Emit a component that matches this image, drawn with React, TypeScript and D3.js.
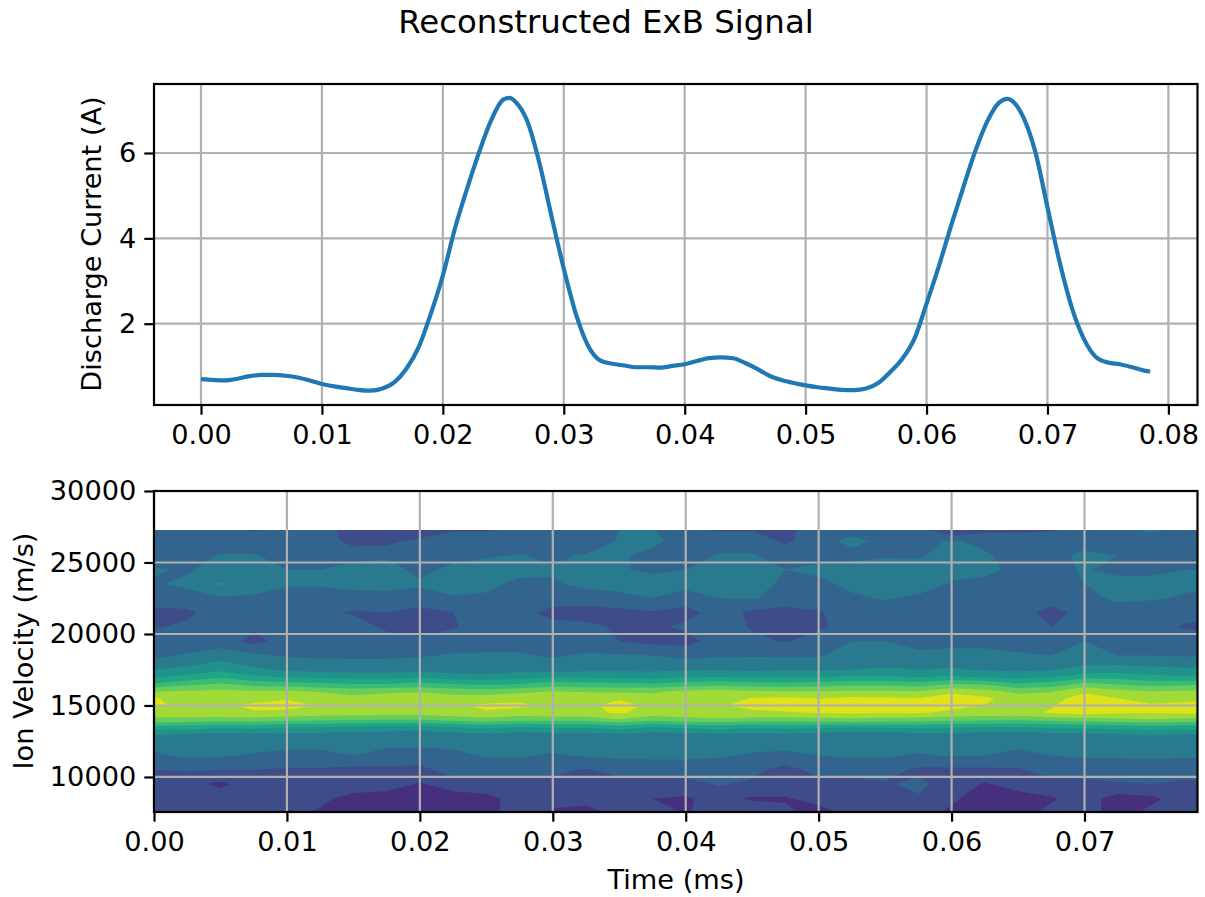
import React, { useRef, useEffect } from "react";
import * as d3 from "d3";

const WIDTH = 1205;
const HEIGHT = 897;

// discharge current trace
const traceTime = [0, 0.002, 0.003, 0.004, 0.005, 0.006, 0.007, 0.008, 0.009, 0.01, 0.011, 0.012, 0.013, 0.014, 0.015, 0.016, 0.017, 0.018, 0.019, 0.02, 0.021, 0.022, 0.023, 0.024, 0.025, 0.0255, 0.026, 0.027, 0.028, 0.029, 0.03, 0.031, 0.032, 0.033, 0.034, 0.035, 0.036, 0.037, 0.038, 0.039, 0.04, 0.041, 0.042, 0.043, 0.044, 0.045, 0.046, 0.047, 0.048, 0.049, 0.05, 0.051, 0.052, 0.053, 0.054, 0.055, 0.056, 0.057, 0.058, 0.059, 0.06, 0.061, 0.062, 0.063, 0.064, 0.065, 0.066, 0.0667, 0.067, 0.068, 0.069, 0.07, 0.071, 0.072, 0.073, 0.074, 0.075, 0.076, 0.077, 0.078, 0.0785];
const traceCurrent = [0.7, 0.67, 0.71, 0.77, 0.8, 0.8, 0.78, 0.74, 0.67, 0.585, 0.53, 0.49, 0.45, 0.43, 0.48, 0.63, 0.95, 1.45, 2.23, 3.13, 4.23, 5.16, 6.02, 6.77, 7.25, 7.29, 7.2, 6.73, 5.75, 4.5, 3.29, 2.23, 1.49, 1.14, 1.06, 1.02, 0.98, 0.98, 0.97, 1.01, 1.05, 1.125, 1.195, 1.21, 1.19, 1.08, 0.94, 0.78, 0.68, 0.61, 0.555, 0.51, 0.48, 0.45, 0.445, 0.48, 0.61, 0.87, 1.18, 1.65, 2.47, 3.33, 4.27, 5.16, 6.02, 6.73, 7.18, 7.27, 7.24, 6.84, 6.02, 4.73, 3.45, 2.39, 1.65, 1.22, 1.09, 1.05, 0.98, 0.9, 0.88];

// ion velocity map: time columns, velocity rows (top to bottom), band level per cell
const mapTime = [0, 0.0025, 0.005, 0.0075, 0.01, 0.0125, 0.015, 0.0175, 0.02, 0.0225, 0.025, 0.0275, 0.03, 0.0325, 0.035, 0.0375, 0.04, 0.0425, 0.045, 0.0475, 0.05, 0.0525, 0.055, 0.0575, 0.06, 0.0625, 0.065, 0.0675, 0.07, 0.0725, 0.075, 0.0775, 0.0785];
const mapVelocity = [27270, 26500, 25500, 24500, 23500, 22500, 21500, 20500, 19500, 18500, 17500, 17000, 16500, 16000, 15500, 15000, 14500, 14000, 13500, 13000, 12500, 11500, 10500, 9500, 8500, 7550];
const mapLevels = [
  [2.4, 2.5, 2.5, 1.9, 2.3, 2.4, 1.6, 1.6, 0.9, 1.9, 1.9, 2.3, 2.3, 2.5, 3.0, 3.1, 2.2, 1.9, 1.9, 1.8, 2.4, 2.6, 2.5, 2.5, 0.9, 1.7, 1.8, 1.9, 2.6, 2.9, 3.1, 2.8, 2.7],
  [2.3, 2.5, 2.6, 2.6, 2.6, 2.6, 1.6, 1.6, 2.4, 2.5, 2.6, 2.6, 2.6, 2.2, 3.1, 3.2, 2.6, 2.7, 2.7, 1.8, 2.6, 3.3, 2.7, 2.7, 3.1, 2.8, 2.6, 2.6, 2.6, 2.7, 2.7, 2.6, 2.6],
  [2.5, 2.7, 3.05, 3.05, 2.7, 2.9, 2.7, 2.9, 2.7, 2.7, 2.9, 3.05, 2.8, 3.1, 3.1, 2.8, 2.7, 3.05, 3.05, 2.7, 2.6, 2.7, 2.9, 2.9, 3.3, 3.1, 2.7, 2.7, 3.2, 3.0, 2.7, 2.6, 2.6],
  [3.1, 2.9, 3.4, 3.5, 3.0, 3.0, 3.3, 3.3, 2.8, 3.2, 3.4, 3.4, 3.1, 3.2, 3.1, 2.8, 3.0, 3.4, 3.4, 3.0, 3.3, 3.4, 3.4, 3.3, 3.4, 3.3, 2.7, 2.7, 3.1, 2.7, 2.7, 3.0, 3.0],
  [2.9, 3.2, 4.1, 3.6, 3.1, 3.1, 3.3, 3.3, 3.1, 3.4, 3.3, 2.7, 2.9, 3.2, 3.4, 3.5, 3.3, 3.4, 3.4, 2.8, 2.7, 3.3, 3.4, 3.5, 2.9, 2.7, 2.6, 2.6, 3.0, 3.4, 3.4, 3.2, 3.1],
  [2.5, 2.6, 2.9, 2.8, 2.6, 2.6, 2.6, 2.7, 2.7, 2.9, 2.8, 2.6, 2.6, 2.6, 2.7, 3.0, 2.6, 3.0, 3.1, 2.6, 2.6, 2.8, 3.1, 2.8, 2.6, 2.5, 2.5, 2.5, 2.7, 3.2, 3.1, 2.9, 2.9],
  [1.7, 1.8, 2.5, 2.5, 2.2, 2.2, 1.9, 2.0, 1.6, 2.0, 2.5, 2.4, 1.6, 1.5, 1.7, 1.9, 1.6, 2.5, 1.8, 1.6, 1.9, 2.5, 2.5, 2.5, 2.5, 2.5, 2.5, 1.6, 2.4, 2.5, 2.5, 2.4, 2.4],
  [1.9, 2.2, 2.5, 2.1, 2.2, 2.5, 2.5, 1.8, 1.6, 1.9, 2.5, 2.4, 2.4, 2.3, 1.8, 1.8, 2.2, 2.5, 1.9, 1.7, 1.8, 2.5, 2.5, 2.5, 2.5, 2.5, 2.4, 2.0, 2.5, 2.5, 2.5, 1.9, 1.8],
  [2.5, 2.5, 2.5, 1.7, 2.4, 2.5, 2.0, 2.4, 2.2, 2.5, 2.6, 2.6, 2.6, 2.6, 2.0, 1.7, 1.6, 2.5, 2.3, 1.9, 2.6, 3.0, 3.0, 2.7, 2.7, 2.7, 2.0, 2.6, 3.0, 2.6, 2.6, 2.6, 2.6],
  [2.8, 3.1, 3.5, 3.2, 2.9, 2.8, 2.8, 2.8, 2.9, 3.1, 3.1, 3.1, 2.9, 3.1, 3.1, 3.0, 2.7, 2.9, 2.9, 2.9, 2.9, 3.5, 3.5, 3.2, 3.3, 3.3, 3.3, 3.0, 3.1, 3.0, 3.0, 2.9, 2.9],
  [4.0, 4.3, 4.8, 4.2, 3.8, 3.7, 3.6, 3.6, 3.8, 3.6, 3.5, 3.7, 3.6, 3.8, 3.8, 3.8, 3.9, 3.9, 3.8, 3.9, 3.9, 4.0, 4.1, 4.0, 4.1, 3.9, 3.8, 3.9, 4.4, 4.5, 4.3, 4.2, 4.2],
  [4.9, 5.3, 5.8, 5.2, 4.9, 4.8, 4.6, 4.6, 4.8, 4.4, 4.4, 4.6, 4.9, 4.8, 4.7, 4.6, 4.9, 5.0, 4.9, 4.9, 5.0, 5.1, 5.1, 5.0, 5.1, 4.9, 4.7, 4.9, 5.6, 5.6, 5.3, 5.1, 5.2],
  [6.1, 6.7, 7.1, 6.6, 6.4, 6.2, 6.0, 6.0, 6.3, 6.0, 5.8, 6.0, 6.4, 6.3, 6.2, 6.1, 6.4, 6.6, 6.4, 6.3, 6.5, 6.7, 6.7, 6.5, 7.0, 6.9, 6.1, 6.4, 7.3, 6.9, 6.6, 6.7, 6.8],
  [7.9, 8.1, 8.2, 8.1, 8.1, 7.9, 7.6, 7.8, 7.9, 7.6, 7.4, 7.7, 8.0, 7.9, 7.8, 7.8, 8.2, 8.3, 8.1, 8.0, 8.0, 8.1, 8.1, 8.0, 8.7, 8.3, 7.7, 7.9, 8.8, 8.3, 8.0, 8.1, 8.2],
  [9.1, 8.5, 8.5, 8.6, 8.9, 8.8, 8.3, 8.5, 8.5, 8.4, 8.5, 8.7, 8.6, 8.5, 8.9, 8.5, 8.7, 8.6, 9.05, 9.2, 8.95, 9.2, 9.1, 9.0, 9.6, 9.2, 8.5, 8.6, 9.5, 9.0, 8.7, 8.8, 8.8],
  [9.2, 8.7, 8.8, 9.2, 9.3, 8.95, 8.7, 8.7, 9.05, 8.8, 9.2, 9.2, 8.8, 8.8, 9.3, 8.8, 8.9, 8.9, 9.3, 9.4, 9.5, 9.5, 9.4, 9.5, 9.3, 9.0, 8.8, 8.9, 9.6, 9.3, 9.1, 9.2, 9.4],
  [8.6, 8.7, 8.8, 8.9, 8.8, 8.6, 8.6, 8.5, 8.5, 8.7, 8.9, 8.6, 8.7, 8.7, 9.15, 8.6, 8.7, 8.7, 8.8, 8.9, 9.1, 9.2, 9.1, 9.1, 8.8, 8.7, 8.7, 9.1, 9.4, 9.1, 9.1, 9.2, 9.2],
  [7.7, 7.6, 7.5, 7.6, 7.3, 7.2, 7.1, 7.0, 7.0, 7.3, 7.6, 7.3, 7.4, 7.4, 7.9, 7.3, 7.6, 7.8, 7.6, 7.5, 7.6, 7.7, 7.6, 7.5, 7.3, 7.2, 7.1, 7.4, 7.5, 7.7, 7.9, 7.7, 7.7],
  [5.6, 5.6, 5.3, 5.4, 5.1, 5.0, 4.8, 4.7, 4.6, 5.0, 5.3, 5.0, 5.2, 5.2, 5.5, 5.0, 5.3, 5.5, 5.2, 5.4, 5.3, 5.1, 5.2, 5.3, 5.1, 5.0, 5.0, 5.2, 5.3, 5.4, 5.6, 5.5, 5.5],
  [4.1, 4.0, 3.8, 3.9, 3.8, 3.8, 3.6, 3.6, 3.5, 3.7, 3.9, 3.7, 3.7, 3.7, 3.9, 3.7, 3.8, 3.9, 3.8, 3.9, 3.8, 3.5, 3.6, 3.8, 3.8, 3.7, 3.6, 3.8, 3.9, 4.0, 4.1, 4.0, 4.0],
  [3.5, 3.5, 3.4, 3.5, 3.4, 3.4, 3.4, 3.3, 3.3, 3.4, 3.5, 3.4, 3.4, 3.4, 3.5, 3.4, 3.4, 3.5, 3.4, 3.4, 3.4, 3.3, 3.4, 3.4, 3.5, 3.4, 3.4, 3.5, 3.6, 3.6, 3.6, 3.5, 3.5],
  [2.8, 3.2, 3.1, 2.9, 2.7, 2.7, 3.0, 2.7, 2.6, 2.7, 3.1, 3.1, 2.9, 3.1, 3.2, 3.2, 3.2, 3.1, 2.9, 2.8, 3.0, 3.1, 3.1, 2.9, 3.1, 3.0, 2.7, 3.0, 3.1, 3.1, 3.2, 3.1, 3.1],
  [2.0, 2.1, 2.0, 2.0, 1.9, 1.9, 1.7, 1.8, 1.7, 2.5, 2.3, 2.5, 2.3, 1.9, 2.4, 2.5, 2.5, 2.5, 2.3, 1.6, 2.4, 2.5, 2.4, 1.8, 1.8, 1.8, 1.9, 2.4, 2.5, 2.5, 2.5, 2.5, 2.5],
  [1.6, 1.3, 0.8, 1.5, 1.6, 1.6, 1.5, 1.5, 0.9, 1.5, 1.6, 1.6, 1.6, 1.6, 1.6, 1.6, 1.6, 2.1, 1.8, 1.7, 1.6, 1.6, 1.9, 2.2, 1.6, 0.9, 1.5, 1.7, 1.7, 1.9, 2.0, 1.8, 1.8],
  [1.5, 1.5, 1.5, 1.4, 1.4, 1.2, 0.7, 0.5, 0.4, 0.5, 0.7, 1.4, 1.3, 1.4, 1.1, 1.0, 0.9, 1.3, 0.9, 0.9, 1.4, 1.5, 1.5, 1.9, 1.2, 0.4, 0.5, 0.9, 1.4, 0.6, 0.8, 1.4, 1.4],
  [0.9, 1.4, 1.5, 1.5, 1.3, 0.9, 0.4, 0.3, 0.3, 0.4, 0.8, 1.3, 0.9, 0.6, 1.4, 1.5, 0.9, 1.5, 1.5, 1.2, 0.6, 1.4, 1.5, 1.5, 0.8, 0.5, 0.7, 1.2, 1.4, 0.6, 1.2, 1.4, 1.4],
];
const bandLevels = [1, 2, 3, 4, 5, 6, 7, 8, 9];

const topXTicks = [0, 0.01, 0.02, 0.03, 0.04, 0.05, 0.06, 0.07, 0.08];
const topYTicks = [2, 4, 6];
const bottomXTicks = [0, 0.01, 0.02, 0.03, 0.04, 0.05, 0.06, 0.07];
const bottomYTicks = [10000, 15000, 20000, 25000, 30000];

const FONT = "'DejaVu Sans', sans-serif";
const FONT_SIZE = 27.2;
const GRID = "#b0b0b0";
const LINE_W = 2.2;

function drawAxes(root, x, y, xTicks, yTicks, xFmt, yFmt, box) {
  // grid first, marks go above/below depending on the caller
  const grid = root.append("g");
  xTicks.forEach(t => {
    grid.append("line").attr("x1", x(t)).attr("x2", x(t)).attr("y1", box.top).attr("y2", box.bottom)
      .attr("stroke", GRID).attr("stroke-width", LINE_W);
  });
  yTicks.forEach(t => {
    grid.append("line").attr("x1", box.left).attr("x2", box.right).attr("y1", y(t)).attr("y2", y(t))
      .attr("stroke", GRID).attr("stroke-width", LINE_W);
  });

  const bottomAxis = root.append("g")
    .attr("transform", `translate(0,${box.bottom})`)
    .call(d3.axisBottom(x).tickValues(xTicks).tickFormat(xFmt).tickSizeOuter(0).tickSize(9.7).tickPadding(10));
  const leftAxis = root.append("g")
    .attr("transform", `translate(${box.left},0)`)
    .call(d3.axisLeft(y).tickValues(yTicks).tickFormat(yFmt).tickSizeOuter(0).tickSize(9.7).tickPadding(8));

  [bottomAxis, leftAxis].forEach(a => {
    a.select(".domain").remove();
    a.selectAll("line").attr("stroke", "#000").attr("stroke-width", LINE_W);
    a.selectAll("text").attr("fill", "#000").style("font-family", FONT).style("font-size", `${FONT_SIZE}px`);
  });
}

function frame(root, box) {
  root.append("rect")
    .attr("x", box.left).attr("y", box.top)
    .attr("width", box.right - box.left).attr("height", box.bottom - box.top)
    .attr("fill", "none").attr("stroke", "#000").attr("stroke-width", LINE_W);
}

function App() {
  const svgRef = useRef();

  useEffect(() => {
    const svg = d3.select(svgRef.current);
    svg.selectAll("*").remove();

    const topBox = { left: 154, right: 1197.5, top: 84, bottom: 405 };
    const botBox = { left: 154, right: 1197.5, top: 491, bottom: 812 };

    svg.append("rect").attr("width", WIDTH).attr("height", HEIGHT).attr("fill", "#fff");

    // top panel
    const topX = d3.scaleLinear().domain([0, 0.08]).range([201, 1168.4]);
    const topY = d3.scaleLinear().domain([2, 6]).range([323.7, 153]);
    const top = svg.append("g");
    drawAxes(top, topX, topY, topXTicks, topYTicks, d3.format(".2f"), d3.format("d"), topBox);

    const line = d3.line()
      .x((d, i) => topX(traceTime[i]))
      .y(d => topY(d))
      .curve(d3.curveMonotoneX);
    top.append("path")
      .attr("d", line(traceCurrent))
      .attr("fill", "none")
      .attr("stroke", "#1f77b4")
      .attr("stroke-width", 4.2);
    frame(top, topBox);

    // bottom panel
    const botX = d3.scaleLinear().domain([0, 0.0785]).range([botBox.left, botBox.right]);
    const botY = d3.scaleLinear().domain([7550, 30000]).range([botBox.bottom, botBox.top]);
    const bot = svg.append("g");

    const nCols = mapTime.length;
    const nRows = mapVelocity.length;
    const colToTime = d3.scaleLinear().domain(d3.range(nCols)).range(mapTime).clamp(true);
    const rowToVel = d3.scaleLinear().domain(d3.range(nRows)).range(mapVelocity).clamp(true);
    const bandColor = k => d3.interpolateViridis(0.14 + 0.09 * k);

    const project = d3.geoTransform({
      point(px, py) {
        this.stream.point(botX(colToTime(px - 0.5)), botY(rowToVel(py - 0.5)));
      },
    });
    const pathGen = d3.geoPath(project);
    const contourGen = d3.contours().size([nCols, nRows]);
    const flat = mapLevels.flat();

    bot.append("rect")
      .attr("x", botX(0)).attr("y", botY(mapVelocity[0]))
      .attr("width", botX(mapTime[nCols - 1]) - botX(0))
      .attr("height", botY(mapVelocity[nRows - 1]) - botY(mapVelocity[0]))
      .attr("fill", bandColor(0));

    bot.selectAll(".band")
      .data(bandLevels)
      .join("path")
      .attr("class", "band")
      .attr("d", k => pathGen(contourGen.contour(flat, k)))
      .attr("fill", k => bandColor(k));

    drawAxes(bot, botX, botY, bottomXTicks, bottomYTicks, d3.format(".2f"), d3.format("d"), botBox);
    frame(bot, botBox);

    // texts
    const text = (str, x, y, size, rotate) => {
      const t = svg.append("text").text(str)
        .attr("text-anchor", "middle")
        .style("font-family", FONT)
        .style("font-size", `${size}px`)
        .attr("fill", "#000");
      if (rotate) t.attr("transform", `translate(${x},${y}) rotate(-90)`);
      else t.attr("x", x).attr("y", y);
    };
    text("Reconstructed ExB Signal", 606, 33, 32.4, false);
    text("Time (ms)", 676, 889, FONT_SIZE, false);
    text("Discharge Current (A)", 101, 244, FONT_SIZE, true);
    text("Ion Velocity (m/s)", 33, 651, FONT_SIZE, true);
  }, []);

  return (
    <svg ref={svgRef} width={WIDTH} height={HEIGHT} style={{ position: "absolute", left: 0, top: 0, display: "block" }}></svg>
  );
}

export default App;
